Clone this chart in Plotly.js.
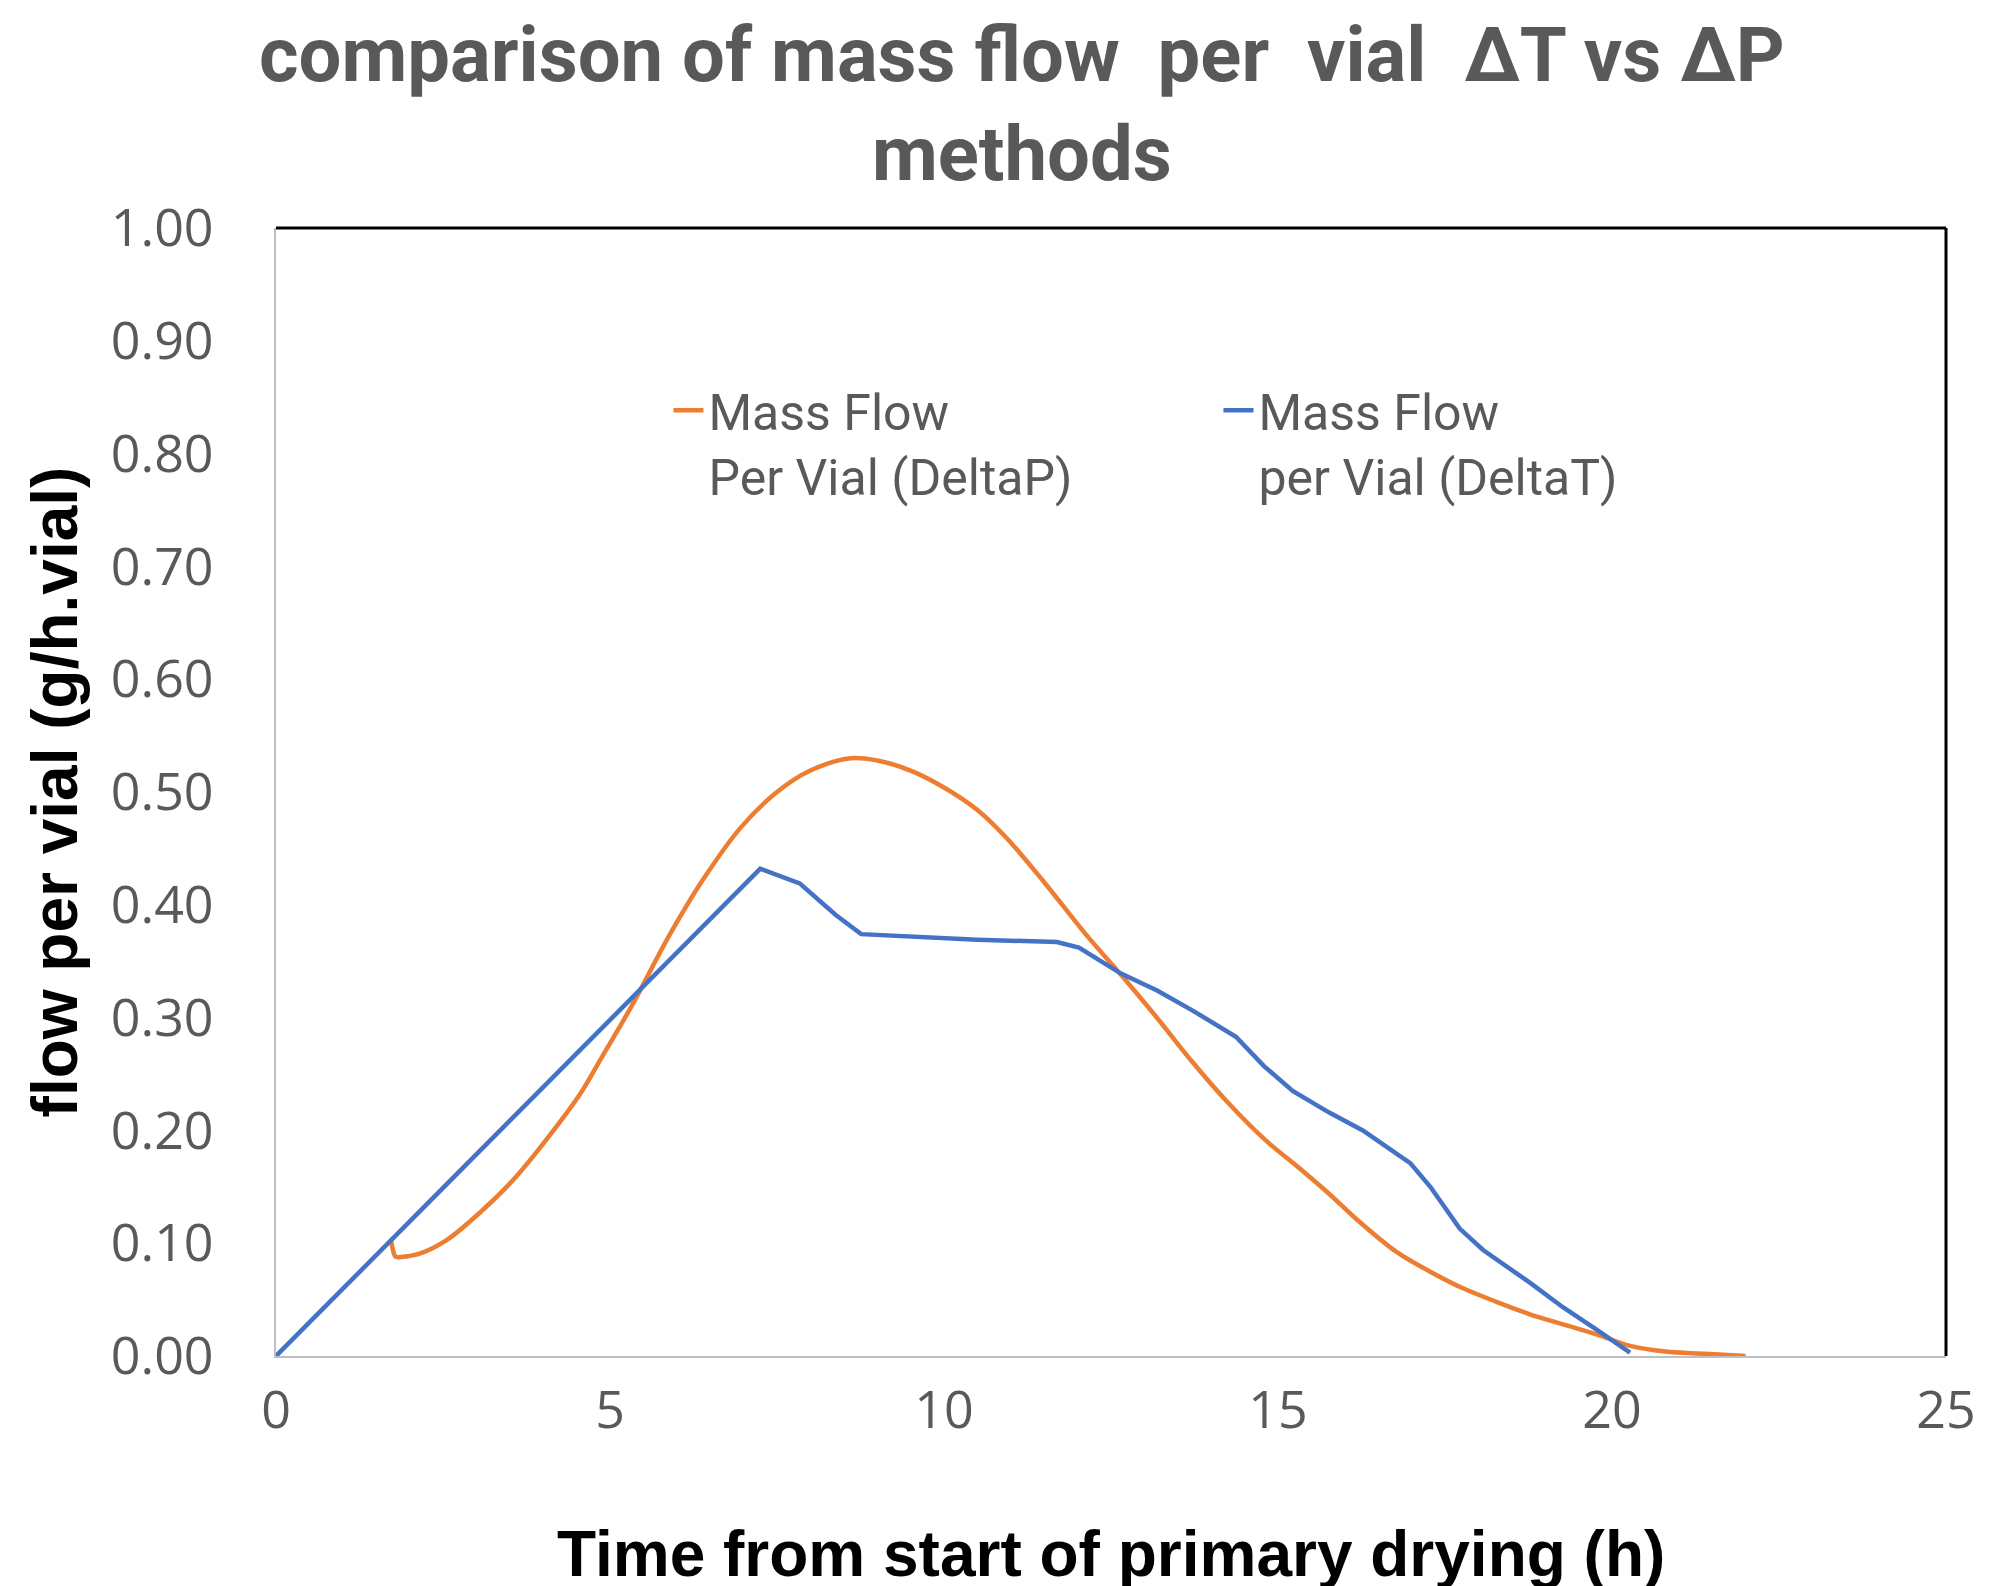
<!DOCTYPE html>
<html>
<head>
<meta charset="utf-8">
<script src="https://cdn.plot.ly/plotly-3.0.1.min.js"></script>
<style>
  html, body { margin: 0; padding: 0; background: #fff; }
  #chart { width: 1992px; height: 1586px; }
</style>
</head>
<body>
<div id="chart"></div>
<script>
// Mass flow per vial, DeltaP method (orange)
var timeDeltaP = [1.72, 1.76, 1.79, 1.90, 2.16, 2.56, 3.05, 3.55, 4.05, 4.55, 4.85, 5.34, 5.88, 6.40, 6.95, 7.50, 8.00, 8.60, 9.00, 9.50, 10.00, 10.50, 10.94, 11.50, 12.12, 12.65, 13.20, 13.70, 14.26, 14.80, 15.33, 15.78, 16.18, 16.78, 17.27, 17.77, 18.27, 18.77, 19.27, 19.78, 20.27, 20.80, 21.40, 22.00];
var flowDeltaP = [0.103, 0.092, 0.088, 0.088, 0.091, 0.103, 0.127, 0.156, 0.192, 0.232, 0.262, 0.312, 0.372, 0.423, 0.468, 0.500, 0.519, 0.530, 0.528, 0.519, 0.504, 0.484, 0.459, 0.420, 0.374, 0.338, 0.299, 0.262, 0.224, 0.192, 0.166, 0.143, 0.121, 0.092, 0.075, 0.060, 0.048, 0.037, 0.028, 0.019, 0.009, 0.004, 0.002, 0.000];

// Mass flow per vial, DeltaT method (blue)
var timeDeltaT = [0, 7.25, 7.84, 8.38, 8.76, 9.45, 10.50, 11.69, 12.02, 12.65, 13.19, 13.73, 14.37, 14.79, 15.22, 15.76, 16.27, 16.98, 17.28, 17.72, 18.07, 18.77, 19.27, 19.78, 20.27];
var flowDeltaT = [0, 0.432, 0.419, 0.391, 0.374, 0.372, 0.369, 0.367, 0.362, 0.339, 0.324, 0.306, 0.283, 0.257, 0.235, 0.216, 0.200, 0.171, 0.150, 0.113, 0.094, 0.065, 0.043, 0.023, 0.003];

var yTicks = [0, 0.1, 0.2, 0.3, 0.4, 0.5, 0.6, 0.7, 0.8, 0.9, 1.0];
var xTicks = [0, 5, 10, 15, 20, 25];

var grey = '#595959';

var traces = [
    {
        x: timeDeltaP, y: flowDeltaP, type: 'scatter', mode: 'lines',
        name: 'Mass Flow<br>Per Vial (DeltaP)',
        line: { color: '#ED7D31', width: 4.5, shape: 'spline', smoothing: 1 }
    },
    {
        x: timeDeltaT, y: flowDeltaT, type: 'scatter', mode: 'lines',
        name: 'Mass Flow<br>per Vial (DeltaT)',
        line: { color: '#4472C4', width: 4.5 }
    }
];

var layout = {
    width: 1992, height: 1586,
    paper_bgcolor: '#fff', plot_bgcolor: '#fff',
    margin: { l: 276, r: 46, t: 228, b: 230 },
    title: {
        text: 'comparison of mass flow \u00a0per \u00a0vial \u00a0\u0394T vs \u0394P<br>methods',
        font: { family: 'Roboto', size: 76, color: grey, weight: 'bold' },
        x: 0.513, xref: 'container', xanchor: 'center',
        y: 0.949, yref: 'container', yanchor: 'top'
    },
    showlegend: true,
    legend: {
        orientation: 'h', x: 0.235, xanchor: 'left', y: 0.873, yanchor: 'top',
        valign: 'top', entrywidth: 505, entrywidthmode: 'pixels',
        font: { family: 'Roboto', size: 50, color: grey },
        bgcolor: 'rgba(0,0,0,0)'
    },
    xaxis: {
        range: [0, 25], tickvals: xTicks, ticktext: xTicks.map(String),
        showgrid: false, zeroline: false,
        showline: true, linecolor: '#BFBFBF', linewidth: 2,
        ticks: 'outside', ticklen: 8, tickcolor: 'rgba(0,0,0,0)',
        tickfont: { family: 'Open Sans', size: 52, color: grey }
    },
    yaxis: {
        range: [0, 1], tickvals: yTicks, ticktext: yTicks.map(function (v) { return v.toFixed(2); }),
        showgrid: false, zeroline: false,
        showline: true, linecolor: '#BFBFBF', linewidth: 2,
        ticks: 'outside', ticklen: 50, tickcolor: 'rgba(0,0,0,0)',
        tickfont: { family: 'Open Sans', size: 52, color: grey },
        title: {
            text: 'flow per vial (g/h.vial)',
            font: { family: 'Liberation Sans', size: 64, color: '#000', weight: 'bold' },
            standoff: 12
        }
    },
    // x title sits lower than plotly's margin allows, so it is an annotation
    annotations: [
        {
            text: 'Time from start of primary drying (h)', showarrow: false,
            xref: 'paper', yref: 'paper', x: 0.5, y: 0, xanchor: 'center', yanchor: 'middle',
            yshift: -198,
            font: { family: 'Liberation Sans', size: 64, color: '#000', weight: 'bold' }
        }
    ],
    shapes: [
        { type: 'line', xref: 'paper', yref: 'paper', x0: 0, x1: 1, y0: 1, y1: 1, line: { color: '#000', width: 3 } },
        { type: 'line', xref: 'paper', yref: 'paper', x0: 1, x1: 1, y0: 0, y1: 1, line: { color: '#000', width: 3 } }
    ]
};

Plotly.newPlot('chart', traces, layout, { displayModeBar: false, staticPlot: true });
</script>
</body>
</html>
